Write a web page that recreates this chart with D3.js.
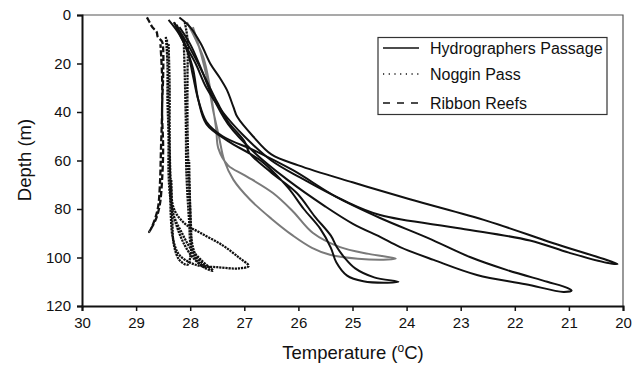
<!DOCTYPE html>
<html>
<head>
<meta charset="utf-8">
<script src="https://cdn.jsdelivr.net/npm/d3@7"></script>
<style>
  body { margin: 0; background: #fff; }
  svg text { font-family: "Liberation Sans", Arial, sans-serif; fill: #111; }
</style>
</head>
<body>
<div id="chart"></div>
<script>
// temperature (°C), depth (m) pairs for each cast
const hydro1 = [[28.2,1],[28.0,5],[27.8,12],[27.63,20],[27.45,26],[27.32,31],[27.2,38],[27.13,42],[26.84,50],[26.5,57.5],[26.0,62],[25.0,69],[23.94,76],[22.5,85],[21.3,94],[20.1,102.7],
  [20.3,102.2],[21.0,98],[21.72,93],[23.0,88],[24.49,82.5],[25.18,76.3],[25.97,67],[26.5,60],[27.0,50],[27.4,40],[27.7,30],[27.9,20],[28.1,12],[28.3,3]];
const hydro2 = [[28.4,2],[28.2,8],[28.05,15],[27.95,25],[27.85,35],[27.7,44],[27.4,50],[26.8,56],[26.1,64],[25.3,75],[24.49,83.7],[23.6,92],[22.83,99.8],[22.14,105.2],[21.4,110],[21.02,112.6],[20.95,113.6],
  [21.1,114.2],[21.8,111],[22.7,107.2],[23.5,101],[24.12,95.7],[24.49,91.5],[25.0,86],[25.5,79],[26.2,68],[26.8,57],[27.3,45],[27.6,33],[27.8,22],[28.0,12],[28.2,5]];
const hydro3 = [[28.3,3],[28.1,10],[27.9,18],[27.7,27],[27.5,36],[27.3,44],[27.0,52],[26.9,57],[26.5,65],[26.03,73.4],[25.7,83],[25.4,91],[25.29,95.7],[25.15,100],[24.95,104.5],[24.6,108.2],[24.15,110],
  [24.35,110.4],[24.8,109.8],[25.1,107.5],[25.3,102],[25.4,96],[25.6,88],[25.9,80],[26.2,71],[26.7,60],[27.3,52],[27.7,45],[27.85,35],[27.95,22],[28.1,12],[28.25,4]];
const hydroGrey = [[28.06,3],[27.9,10],[27.75,18],[27.65,28],[27.58,38],[27.52,47],[27.48,55],[27.3,62],[27.0,66],[26.47,73.4],[26.1,81],[25.73,89.9],[25.23,95.7],[24.7,98.5],[24.2,100.4],
  [24.35,100.8],[24.9,100.5],[25.4,99],[25.75,96],[26.1,91],[26.5,84],[26.9,76],[27.2,68],[27.37,60],[27.47,50],[27.57,40],[27.67,28],[27.8,16],[27.95,5]];

const noggin1 = [[28.45,9],[28.42,20],[28.42,35],[28.4,50],[28.4,65],[28.37,75],[28.3,83],[28.15,90],[28.0,96],[27.8,101],[27.58,105.5],
  [27.75,104],[27.95,100],[28.1,95],[28.25,87],[28.35,78],[28.38,60],[28.4,40],[28.42,20],[28.43,10]];
const noggin2 = [[28.4,12],[28.38,30],[28.38,50],[28.36,68],[28.3,80],[28.1,86],[27.8,90],[27.4,95],[27.1,100],[26.92,103.5],
  [27.1,104.5],[27.5,104],[27.9,103],[28.2,99],[28.32,92],[28.36,82],[28.37,70]];
const noggin3 = [[28.1,3],[28.05,10],[28.05,25],[28.05,45],[28.03,65],[28.0,80],[27.98,92],[27.9,99],[27.75,103],[27.7,104],
  [27.85,102],[27.98,96],[28.02,85],[28.07,65],[28.08,45],[28.1,25],[28.12,10]];
const noggin4 = [[28.35,68],[28.33,85],[28.3,95],[28.2,101],[28.05,103],[28.0,100],[27.98,92],[28.0,80],[28.02,60]];

const ribbon1 = [[28.8,1],[28.75,3],[28.7,5],[28.62,7],[28.6,9],[28.52,11],[28.5,14],[28.5,25],[28.52,40],[28.5,55],[28.52,68],[28.56,78],[28.63,84],[28.72,88],[28.76,89.5],
  [28.7,87],[28.6,80],[28.56,70],[28.54,55],[28.52,40],[28.52,25],[28.55,12]];

const xTicks = [30, 29, 28, 27, 26, 25, 24, 23, 22, 21, 20];
const yTicks = [0, 20, 40, 60, 80, 100, 120];
const legendNames = ['Hydrographers Passage', 'Noggin Pass', 'Ribbon Reefs'];

const width = 644, height = 366;
const margin = {left: 82, right: 20, top: 15, bottom: 60};

const svg = d3.select('#chart').append('svg')
  .attr('width', width)
  .attr('height', height);

const x = d3.scaleLinear().domain([30, 20]).range([margin.left, 623]);
const y = d3.scaleLinear().domain([0, 120]).range([margin.top, 306]);

// frame (top and right)
svg.append('path')
  .attr('d', `M${x(30)},${y(0)}H${x(20)}V${y(120)}`)
  .attr('fill', 'none')
  .attr('stroke', '#555')
  .attr('stroke-width', 1.2);

const line = d3.line()
  .x(d => x(d[0]))
  .y(d => y(d[1]))
  .curve(d3.curveCatmullRom.alpha(0.5));

const casts = [
  {data: ribbon1, color: '#111', dash: '6,2.5'},
  {data: noggin1, color: '#111', dash: '2.2,0.9'},
  {data: noggin2, color: '#111', dash: '2.2,0.9'},
  {data: noggin3, color: '#111', dash: '2.2,0.9'},
  {data: noggin4, color: '#111', dash: '2.2,0.9'},
  {data: hydroGrey, color: '#7a7a7a', dash: null},
  {data: hydro3, color: '#111', dash: null},
  {data: hydro2, color: '#111', dash: null},
  {data: hydro1, color: '#111', dash: null}
];

svg.append('g')
  .selectAll('path')
  .data(casts)
  .enter()
  .append('path')
    .attr('d', d => line(d.data))
    .attr('fill', 'none')
    .attr('stroke', d => d.color)
    .attr('stroke-width', d => d.dash ? 2.3 : 2)
    .attr('stroke-dasharray', d => d.dash)
    .attr('stroke-linejoin', 'round');

// axes
const xAxis = svg.append('g')
  .attr('transform', `translate(0,${y(120)})`)
  .call(d3.axisBottom(x).tickValues(xTicks).tickSize(5).tickPadding(6).tickFormat(d3.format('d')));
const yAxis = svg.append('g')
  .attr('transform', `translate(${x(30)},0)`)
  .call(d3.axisLeft(y).tickValues(yTicks).tickSize(5).tickPadding(6).tickFormat(d3.format('d')));

[xAxis, yAxis].forEach(a => {
  a.select('.domain').attr('stroke', '#111').attr('stroke-width', 2);
  a.selectAll('.tick line').attr('stroke', '#111').attr('stroke-width', 1.5);
  a.selectAll('.tick text').style('font-size', '15px').style('font-family', '"Liberation Sans", Arial, sans-serif').attr('fill', '#111');
});

// axis titles
const xt = svg.append('text')
  .attr('x', 353)
  .attr('y', 359)
  .attr('text-anchor', 'middle')
  .style('font-size', '18.5px');
xt.append('tspan').text('Temperature (');
xt.append('tspan').attr('dy', -7).style('font-size', '12px').text('o');
xt.append('tspan').attr('dy', 7).text('C)');

svg.append('text')
  .attr('transform', 'translate(31,160) rotate(-90)')
  .attr('text-anchor', 'middle')
  .style('font-size', '18.5px')
  .text('Depth (m)');

// legend
const legend = svg.append('g');
legend.append('rect')
  .attr('x', 378).attr('y', 37.5)
  .attr('width', 229).attr('height', 77)
  .attr('fill', '#fff')
  .attr('stroke', '#333')
  .attr('stroke-width', 1.2);

const legendDash = [null, '1.2,4.5', '7,7'];
const legendY = [48, 74, 103];
legendNames.forEach((name, i) => {
  legend.append('line')
    .attr('x1', 383).attr('x2', 419)
    .attr('y1', legendY[i]).attr('y2', legendY[i])
    .attr('stroke', '#111')
    .attr('stroke-width', 1.3)
    .attr('stroke-dasharray', legendDash[i]);
  legend.append('text')
    .attr('x', 430)
    .attr('y', legendY[i] + 5.5)
    .style('font-size', '16px')
    .text(name);
});
</script>
</body>
</html>
